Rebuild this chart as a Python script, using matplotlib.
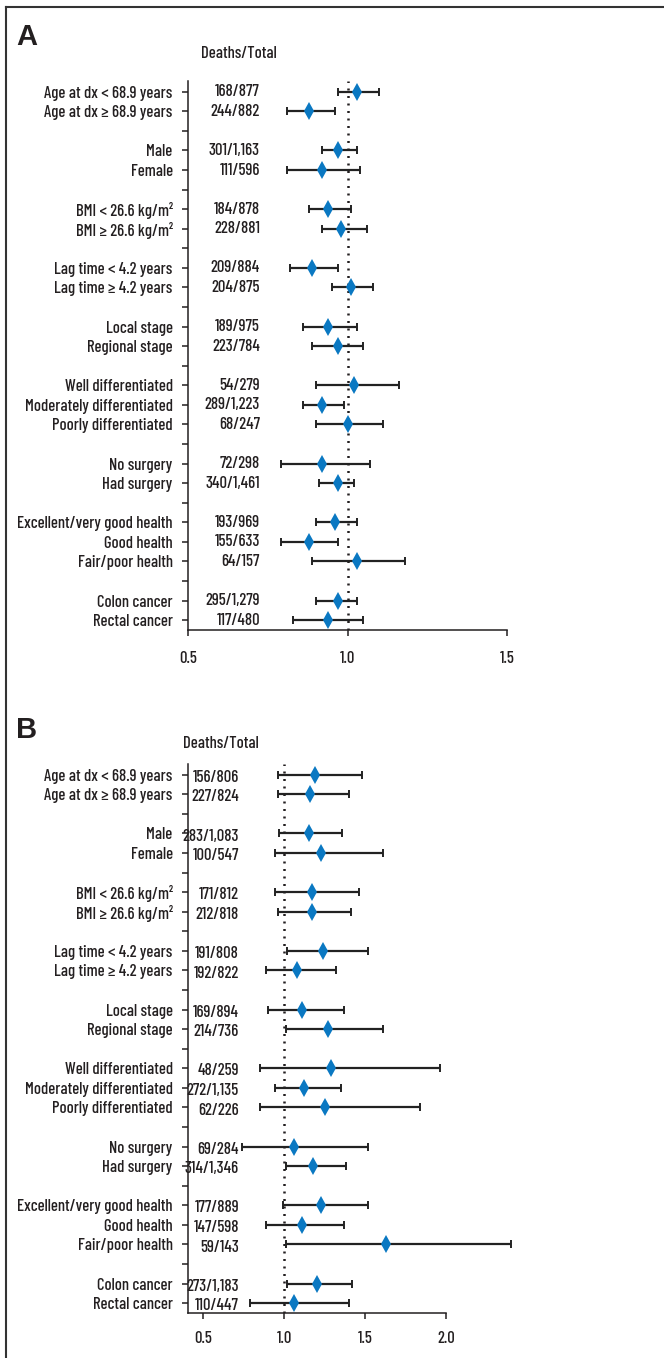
import matplotlib
matplotlib.use("Agg")
import matplotlib.pyplot as plt
from matplotlib.lines import Line2D
from matplotlib.transforms import blended_transform_factory

plt.rcParams['font.family'] = ['Barlow Condensed', 'DejaVu Sans']
plt.rcParams['font.weight'] = 'medium'

labels = [
  "Age at dx < 68.9 years", "Age at dx \u2265 68.9 years",
  "Male", "Female",
  "BMI < 26.6 kg/m\u00b2", "BMI \u2265 26.6 kg/m\u00b2",
  "Lag time < 4.2 years", "Lag time \u2265 4.2 years",
  "Local stage", "Regional stage",
  "Well differentiated", "Moderately differentiated", "Poorly differentiated",
  "No surgery", "Had surgery",
  "Excellent/very good health", "Good health", "Fair/poor health",
  "Colon cancer", "Rectal cancer",
]
group_sizes = [2, 2, 2, 2, 2, 3, 2, 3, 2]

# panel A
a_counts = ["168/877", "244/882", "301/1,163", "111/596", "184/878", "228/881",
            "209/884", "204/875", "189/975", "223/784", "54/279", "289/1,223",
            "68/247", "72/298", "340/1,461", "193/969", "155/633", "64/157",
            "295/1,279", "117/480"]
a_hr = [1.03, 0.88, 0.97, 0.92, 0.94, 0.98, 0.89, 1.01, 0.94, 0.97,
        1.02, 0.92, 1.00, 0.92, 0.97, 0.96, 0.88, 1.03, 0.97, 0.94]
a_lo = [0.97, 0.81, 0.92, 0.81, 0.88, 0.92, 0.82, 0.95, 0.86, 0.89,
        0.90, 0.86, 0.90, 0.79, 0.91, 0.90, 0.79, 0.89, 0.90, 0.83]
a_hi = [1.10, 0.96, 1.03, 1.04, 1.01, 1.06, 0.97, 1.08, 1.03, 1.05,
        1.16, 0.99, 1.11, 1.07, 1.02, 1.03, 0.97, 1.18, 1.03, 1.05]
a_ticks = [0.5, 1.0, 1.5]

# panel B
b_counts = ["156/806", "227/824", "283/1,083", "100/547", "171/812", "212/818",
            "191/808", "192/822", "169/894", "214/736", "48/259", "272/1,135",
            "62/226", "69/284", "314/1,346", "177/889", "147/598", "59/143",
            "273/1,183", "110/447"]
b_hr = [1.19, 1.16, 1.15, 1.23, 1.17, 1.17, 1.24, 1.08, 1.11, 1.27,
        1.29, 1.12, 1.25, 1.06, 1.18, 1.23, 1.11, 1.63, 1.20, 1.06]
b_lo = [0.96, 0.96, 0.97, 0.94, 0.94, 0.96, 1.02, 0.89, 0.90, 1.01,
        0.85, 0.94, 0.85, 0.74, 1.01, 0.99, 0.89, 1.01, 1.02, 0.79]
b_hi = [1.48, 1.40, 1.36, 1.61, 1.46, 1.41, 1.52, 1.32, 1.37, 1.61,
        1.96, 1.35, 1.84, 1.52, 1.38, 1.52, 1.37, 2.40, 1.42, 1.40]
b_ticks = [0.5, 1.0, 1.5, 2.0]

TEXT = "#231f20"
BLUE = "#0a78c2"
FS = 12
W, H = 664, 1358


def row_positions(sizes):
  pos, tick_pos = [], []
  y = 0
  for i, n in enumerate(sizes):
    for k in range(n):
      pos.append(y)
      tick_pos.append(y)
      y += 1
    if i < len(sizes) - 1:
      tick_pos.append(y)
      y += 1
  return pos, tick_pos


def draw_panel(fig, rect_px, letter, letter_xy, header_xy, counts_x, counts,
               hr, lo, hi, xlim, xticks, count_dy, tick_pad):
  left, top, right, bottom = rect_px
  ax = fig.add_axes([left / W, 1 - bottom / H, (right - left) / W, (bottom - top) / H])
  pos, tick_pos = row_positions(group_sizes)
  names = dict(zip(pos, labels))

  ax.axvline(1.0, color=TEXT, lw=1.8, ls=(0, (0.8, 2.2)), zorder=1)
  xerr = [[h - l for h, l in zip(hr, lo)], [u - h for u, h in zip(hi, hr)]]
  eb = ax.errorbar(hr, pos, xerr=xerr, fmt='none', ecolor="#222222",
                   elinewidth=1.6, capsize=3.2, capthick=1.4, zorder=2)
  for art in list(eb.lines[1]) + list(eb.lines[2]):
    art.set_clip_on(False)
  ax.plot(hr, pos, 'd', color=BLUE, ms=9, mew=0, zorder=3, clip_on=False)

  ax.set_xlim(*xlim)
  ax.set_ylim(27.5, -0.55)
  ax.set_yticks(tick_pos)
  ax.set_yticklabels([names.get(p, "") for p in tick_pos])
  ax.set_xticks(xticks)
  ax.set_xticklabels(["%.1f" % t for t in xticks])
  ax.tick_params(axis='y', length=4, width=1.1, pad=7, labelsize=FS, colors=TEXT)
  ax.tick_params(axis='x', length=4, width=1.1, pad=tick_pad, labelsize=FS, colors=TEXT)
  for s in ("top", "right"):
    ax.spines[s].set_visible(False)
  for s in ("left", "bottom"):
    ax.spines[s].set_linewidth(1.1)
    ax.spines[s].set_color(TEXT)

  tr = blended_transform_factory(fig.transFigure, ax.transData)
  for p, c in zip(pos, counts):
    ax.text(counts_x / W, p + count_dy, c, transform=tr, ha='right', va='center',
            fontsize=FS, color=TEXT)

  fig.text(letter_xy[0] / W, 1 - letter_xy[1] / H, letter, fontsize=21,
           fontweight='bold', family=['Liberation Sans', 'DejaVu Sans'],
           ha='left', va='center', color=TEXT)
  fig.text(header_xy[0] / W, 1 - header_xy[1] / H, "Deaths/Total", fontsize=FS,
           ha='center', va='center', color=TEXT)
  return ax


fig = plt.figure(figsize=(W / 100, H / 100), dpi=100)

draw_panel(fig, (188, 81, 507, 630), "A", (16, 37), (239, 54), 260, a_counts,
           a_hr, a_lo, a_hi, (0.5, 1.5), a_ticks, 0.0, 11)
draw_panel(fig, (188, 764, 446, 1313), "B", (16, 730), (221, 743), 239, b_counts,
           b_hr, b_lo, b_hi, (0.405, 2.0), b_ticks, 0.13, 9)

fig.add_artist(Line2D([6 / W, 1], [1 - 7 / H, 1 - 7 / H], transform=fig.transFigure,
                      color="#333333", lw=1.5))
fig.add_artist(Line2D([6 / W, 6 / W], [0, 1 - 7 / H], transform=fig.transFigure,
                      color="#333333", lw=1.5))

fig.savefig("out.png", dpi=100)
